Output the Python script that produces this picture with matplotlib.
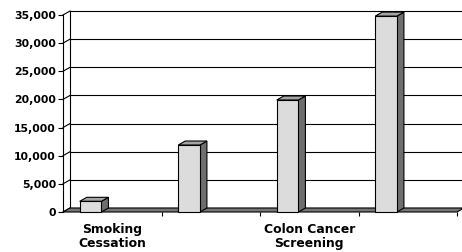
import matplotlib
matplotlib.use("Agg")
import matplotlib.pyplot as plt
from matplotlib.patches import Polygon, Rectangle
from matplotlib.ticker import FuncFormatter

# ---- dados ----
categories = ["Smoking\nCessation", "", "Colon Cancer\nScreening", ""]
values = [1900, 11900, 19900, 34800]
yticks = [0, 5000, 10000, 15000, 20000, 25000, 30000, 35000]

W, H = 462, 252
fig = plt.figure(figsize=(W / 100, H / 100), dpi=100)
ax = fig.add_axes([63 / W, 40 / H, 394 / W, 197 / H])
ax.set_xlim(0, 4)
ax.set_ylim(0, 35000)

# profundidade 3D em unidades de dados (7px para a direita, 4px para cima)
dx = 7 / 394 * 4
dy = 4 / 197 * 35000

front = "#dcdcdc"
side = "#6e6e6e"
top = "#a4a4a4"
floor = "#767676"

# ---- paredes e grade ----
for v in yticks:
    ax.plot([dx, 4 + dx], [v + dy, v + dy], color="black", lw=0.8, clip_on=False, zorder=1)
    ax.plot([0, dx], [v, v + dy], color="black", lw=0.8, clip_on=False, zorder=1)
ax.plot([dx, dx], [dy, 35000 + dy], color="black", lw=0.8, clip_on=False, zorder=1)

# chao
ax.add_patch(Polygon([(0, 0), (4, 0), (4 + dx, dy), (dx, dy)], closed=True,
                     facecolor=floor, edgecolor="black", lw=0.8, clip_on=False, zorder=2))

# ---- barras ----
bw = 0.22
for i, v in enumerate(values):
    x0 = i + 0.17
    x1 = x0 + bw
    ax.add_patch(Polygon([(x1, 0), (x1 + dx, dy), (x1 + dx, v + dy), (x1, v)], closed=True,
                         facecolor=side, edgecolor="black", lw=0.8, clip_on=False, zorder=3))
    ax.add_patch(Polygon([(x0, v), (x1, v), (x1 + dx, v + dy), (x0 + dx, v + dy)], closed=True,
                         facecolor=top, edgecolor="black", lw=0.8, clip_on=False, zorder=3))
    ax.add_patch(Rectangle((x0, 0), bw, v, facecolor=front, edgecolor="black",
                           lw=0.8, clip_on=False, zorder=4))

# ---- eixos ----
for s in ["top", "right", "bottom"]:
    ax.spines[s].set_visible(False)
ax.spines["left"].set_linewidth(0.8)
ax.spines["left"].set_zorder(5)

ax.set_yticks(yticks)
ax.yaxis.set_major_formatter(FuncFormatter(lambda v, p: f"{int(v):,}"))
ax.tick_params(axis="y", length=3.5, width=0.8, pad=1.5, labelsize=7.8)
for lab in ax.get_yticklabels():
    lab.set_fontweight("bold")

ax.set_xticks([1, 2, 3, 4])
ax.set_xticklabels([])
ax.tick_params(axis="x", which="major", length=3, width=0.8)
ax.set_xticks([0.5, 1.5, 2.5, 3.5], minor=True)
ax.set_xticklabels(categories, minor=True, fontsize=8.9, fontweight="bold", linespacing=1.05)
ax.tick_params(axis="x", which="minor", length=0, pad=8)

ax.patch.set_visible(False)
fig.savefig("out.png", dpi=100)
